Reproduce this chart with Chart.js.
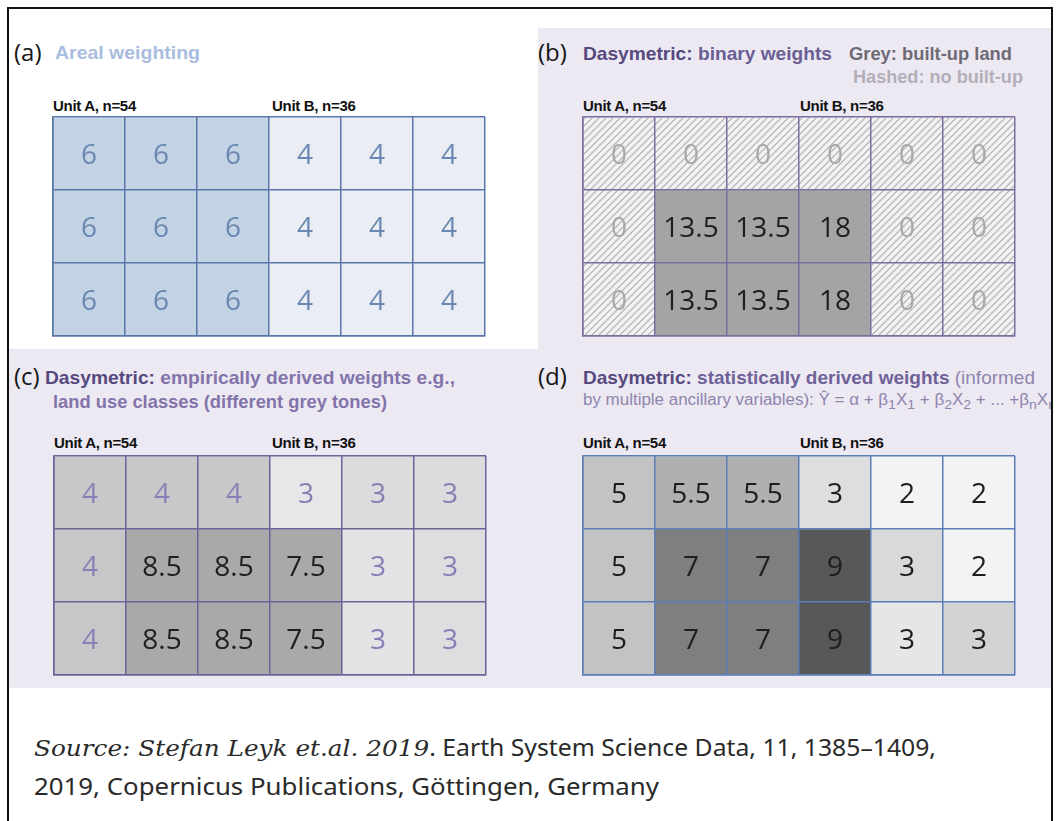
<!DOCTYPE html>
<html>
<head>
<meta charset="utf-8">
<script src="https://cdn.jsdelivr.net/npm/chart.js@4.4.1/dist/chart.umd.min.js"></script>
<style>
  body { margin: 0; background: #fff; }
  #page { position: relative; width: 1059px; height: 821px; overflow: hidden; background: #fff;
          font-family: "Liberation Sans", Arial, sans-serif; }
  .frame { position: absolute; left: 7px; top: 7px; width: 1042px; height: 840px; border: 2px solid #111; }
  .bg { position: absolute; background: #ede9f3; }
  .t { position: absolute; white-space: nowrap; line-height: 1; transform-origin: 0 50%; }
  .tag { font-family: "Open Sans", sans-serif; font-size: 24px; color: #151515; }
  .h { font-weight: bold; font-size: 19px; }
  .unit { font-weight: bold; font-size: 15px; color: #111; letter-spacing: -0.3px; }
  .dark { color: #55497f; }
  .src { font-family: "Noto Sans", sans-serif; font-size: 23px; color: #2a2a2a; }
  .src i { font-family: "DejaVu Serif", serif; }
  .clip { position: absolute; overflow: hidden; }
  canvas { position: absolute; }
</style>
</head>
<body>
<div id="page">
  <div class="bg" style="left:538px; top:28px; width:513px; height:321px;"></div>
  <div class="bg" style="left:9px; top:349px; width:1042px; height:339px;"></div>

  <!-- (a) -->
  <div class="t tag" style="left:14px; top:40px;">(a)</div>
  <div class="t h" data-w="145" style="left:55px; top:43px; color:#a8bde0;">Areal weighting</div>

  <!-- (b) -->
  <div class="t tag" style="left:538px; top:40px;">(b)</div>
  <div class="t h" data-w="249" style="left:583px; top:44px; color:#6a5f92;"><span class="dark">Dasymetric:</span> binary weights</div>
  <div class="t h" data-w="163" style="left:849px; top:44px; color:#6d6a73;">Grey: built-up land</div>
  <div class="t h" data-w="170" style="left:853px; top:67px; color:#b3afb9;">Hashed: no built-up</div>

  <!-- (c) -->
  <div class="t tag" style="left:14px; top:364px;">(c)</div>
  <div class="t h" data-w="410" style="left:45px; top:368px; color:#8274aa;"><span class="dark">Dasymetric:</span> empirically derived weights e.g.,</div>
  <div class="t h" data-w="334" style="left:53px; top:392px; color:#8274aa;">land use classes (different grey tones)</div>

  <!-- (d) -->
  <div class="t tag" style="left:538px; top:364px;">(d)</div>
  <div class="t h" data-w="452" style="left:583px; top:368px; color:#6e6298;"><span class="dark">Dasymetric:</span> statistically derived weights <span style="font-weight:normal; color:#8e85ad;">(informed</span></div>
  <div class="clip" style="left:583px; top:388px; width:468px; height:26px;">
    <div class="t" data-w="473" style="left:0; top:4px; font-size:16px; color:#8e85ad;">by multiple ancillary variables): Ŷ = α + β<sub>1</sub>X<sub>1</sub> + β<sub>2</sub>X<sub>2</sub> + ... +β<sub>n</sub>X<sub>n</sub></div>
  </div>

  <!-- unit labels -->
  <div class="t unit" style="left:53px; top:98px;">Unit A, n=54</div>
  <div class="t unit" style="left:272px; top:98px;">Unit B, n=36</div>
  <div class="t unit" style="left:583px; top:98px;">Unit A, n=54</div>
  <div class="t unit" style="left:800px; top:98px;">Unit B, n=36</div>
  <div class="t unit" style="left:54px; top:435px;">Unit A, n=54</div>
  <div class="t unit" style="left:272px; top:435px;">Unit B, n=36</div>
  <div class="t unit" style="left:583px; top:435px;">Unit A, n=54</div>
  <div class="t unit" style="left:800px; top:435px;">Unit B, n=36</div>

  <canvas id="gridA" width="436" height="223" style="left:51px; top:115px;"></canvas>
  <canvas id="gridB" width="436" height="223" style="left:581px; top:115px;"></canvas>
  <canvas id="gridC" width="436" height="223" style="left:52px; top:454px;"></canvas>
  <canvas id="gridD" width="436" height="223" style="left:581px; top:454px;"></canvas>

  <div class="t src" data-w="902" style="left:34px; top:736px;"><i>Source: Stefan Leyk et.al. 2019</i>. Earth System Science Data, 11, 1385–1409,</div>
  <div class="t src" data-w="625" style="left:34px; top:775px;">2019, Copernicus Publications, Göttingen, Germany</div>

  <div class="frame"></div>
</div>

<script>
// six grid columns, three rows per panel
const columns = ['c1', 'c2', 'c3', 'c4', 'c5', 'c6']
const cellUnits = [1, 1, 1, 1, 1, 1]

// cell values, top row first
const arealValues = [
    [6, 6, 6, 4, 4, 4],
    [6, 6, 6, 4, 4, 4],
    [6, 6, 6, 4, 4, 4]
]
const binaryValues = [
    [0, 0, 0, 0, 0, 0],
    [0, 13.5, 13.5, 18, 0, 0],
    [0, 13.5, 13.5, 18, 0, 0]
]
const empiricalValues = [
    [4, 4, 4, 3, 3, 3],
    [4, 8.5, 8.5, 7.5, 3, 3],
    [4, 8.5, 8.5, 7.5, 3, 3]
]
const statisticalValues = [
    [5, 5.5, 5.5, 3, 2, 2],
    [5, 7, 7, 9, 3, 2],
    [5, 7, 7, 9, 3, 3]
]

// cell shading
const arealShades = [
    ['#c3d2e5', '#c3d2e5', '#c3d2e5', '#eaedf4', '#eaedf4', '#eaedf4'],
    ['#c3d2e5', '#c3d2e5', '#c3d2e5', '#eaedf4', '#eaedf4', '#eaedf4'],
    ['#c3d2e5', '#c3d2e5', '#c3d2e5', '#eaedf4', '#eaedf4', '#eaedf4']
]
const binaryShades = [
    ['hatch', 'hatch', 'hatch', 'hatch', 'hatch', 'hatch'],
    ['hatch', '#a4a4a4', '#a4a4a4', '#a4a4a4', 'hatch', 'hatch'],
    ['hatch', '#a4a4a4', '#a4a4a4', '#a4a4a4', 'hatch', 'hatch']
]
const empiricalShades = [
    ['#c8c8ca', '#c8c8ca', '#c8c8ca', '#e7e7e9', '#dcdcde', '#dcdcde'],
    ['#c7c7c9', '#a9a9aa', '#a9a9aa', '#a9a9aa', '#e3e3e5', '#dedee0'],
    ['#c7c7c9', '#a9a9aa', '#a9a9aa', '#a9a9aa', '#e3e3e5', '#dedee0']
]
const statisticalShades = [
    ['#c3c3c3', '#b0b0b0', '#b0b0b0', '#dedede', '#f3f3f3', '#f3f3f3'],
    ['#c3c3c3', '#7f7f7f', '#7f7f7f', '#585858', '#d9d9d9', '#f3f3f3'],
    ['#c3c3c3', '#7f7f7f', '#7f7f7f', '#585858', '#e6e6e6', '#d3d3d3']
]

function hatchPattern() {
    const tile = document.createElement('canvas')
    tile.width = 7
    tile.height = 7
    const g = tile.getContext('2d')
    g.fillStyle = '#f2f2f2'
    g.fillRect(0, 0, 7, 7)
    g.strokeStyle = '#b0b0b0'
    g.lineWidth = 1.2
    g.beginPath()
    g.moveTo(-1, 8); g.lineTo(8, -1)
    g.moveTo(-1, 1); g.lineTo(1, -1)
    g.moveTo(6, 8); g.lineTo(8, 6)
    g.stroke()
    return g.createPattern(tile, 'repeat')
}

function cellLabels(ink) {
    return {
        id: 'cellLabels',
        afterDatasetsDraw(chart) {
            const ctx = chart.ctx
            ctx.save()
            ctx.font = '28px "Open Sans", sans-serif'
            ctx.textAlign = 'center'
            ctx.textBaseline = 'alphabetic'
            chart.data.datasets.forEach((ds, i) => {
                chart.getDatasetMeta(i).data.forEach((bar, j) => {
                    const p = bar.getCenterPoint()
                    const v = ds.cells[j]
                    ctx.fillStyle = ink(v)
                    ctx.fillText(String(v), p.x, p.y + 10)
                })
            })
            ctx.restore()
        }
    }
}

function makeGrid(id, values, shades, ink, line) {
    const hatch = hatchPattern()
    new Chart(
        document.getElementById(id),
        {
            type: 'bar',
            data: {
                labels: columns,
                datasets: values.map((row, r) => ({
                    data: cellUnits,
                    cells: row,
                    backgroundColor: shades[r].map(c => c === 'hatch' ? hatch : c),
                    borderWidth: 0,
                    barPercentage: 1,
                    categoryPercentage: 1
                }))
            },
            options: {
                responsive: false,
                animation: false,
                events: [],
                layout: { padding: 2 },
                plugins: {
                    legend: { display: false },
                    tooltip: { enabled: false }
                },
                scales: {
                    x: {
                        stacked: true,
                        offset: true,
                        ticks: { display: false },
                        grid: { offset: true, color: line, lineWidth: 1.5, drawTicks: false, z: 1 },
                        border: { color: line, width: 1.5, z: 1 }
                    },
                    y: {
                        stacked: true,
                        reverse: true,
                        min: 0,
                        max: 3,
                        ticks: { display: false, stepSize: 1 },
                        grid: { color: line, lineWidth: 1.5, drawTicks: false, z: 1 },
                        border: { color: line, width: 1.5, z: 1 }
                    }
                }
            },
            plugins: [cellLabels(ink)]
        }
    )
}

function fitTexts() {
    document.querySelectorAll('[data-w]').forEach(el => {
        const w = el.getBoundingClientRect().width
        el.style.transform = 'scaleX(' + (Number(el.dataset.w) / w) + ')'
    })
}

document.fonts.ready.then(() => {
    fitTexts()
    makeGrid('gridA', arealValues, arealShades, () => '#6a88b2', '#5877a8')
    makeGrid('gridB', binaryValues, binaryShades, v => v === 0 ? '#a9a9a9' : '#1e1e1e', '#7c6f9e')
    makeGrid('gridC', empiricalValues, empiricalShades, v => v < 5 ? '#8a7eb5' : '#202020', '#6c6297')
    makeGrid('gridD', statisticalValues, statisticalShades, () => '#1e1e1e', '#5d7db7')
})
</script>
</body>
</html>
